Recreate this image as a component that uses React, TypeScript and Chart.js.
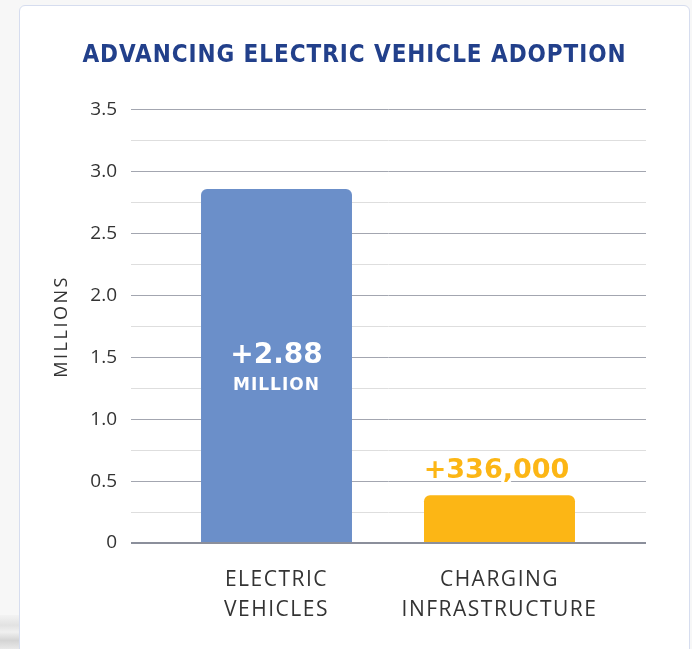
import React, { useEffect, useRef } from "react";
import { Chart, registerables } from "chart.js";

Chart.register(...registerables);

const chartTitle = "ADVANCING ELECTRIC VEHICLE ADOPTION";
const yAxisTitle = "MILLIONS";
const categories: string[][] = [
  ["ELECTRIC", "VEHICLES"],
  ["CHARGING", "INFRASTRUCTURE"],
];
const values: number[] = [2.86, 0.385];
const barColors: string[] = ["#6b8fc9", "#fcb615"];
const valueLabels: string[] = ["+2.88", "+336,000"];
const valueSubLabels: string[] = ["MILLION", ""];
const yTickValues: number[] = [0, 0.5, 1, 1.5, 2, 2.5, 3, 3.5];
const yTickLabels: string[] = ["0", "0.5", "1.0", "1.5", "2.0", "2.5", "3.0", "3.5"];

function withSpacing(ctx: any, spacing: string, fn: () => void) {
  ctx.save();
  ctx.letterSpacing = spacing;
  fn();
  ctx.restore();
}

const labelPlugin = {
  id: "barLabels",
  beforeDraw(chart: any) {
    const x = chart.scales.x;
    const y = chart.scales.y;
    const t = chart.titleBlock;
    const ctx = chart.ctx;
    if (x && !x.__patched) {
      const orig = x.drawLabels.bind(x);
      x.drawLabels = (area: any) => withSpacing(ctx, "1.5px", () => orig(area));
      x.__patched = true;
    }
    if (y && !y.__patched) {
      const origT = y.drawTitle.bind(y);
      y.drawTitle = () => withSpacing(ctx, "2.5px", () => origT());
      y.__patched = true;
    }
    if (t && !t.__patched) {
      const origD = t.draw.bind(t);
      t.draw = () => withSpacing(ctx, "0.95px", () => origD());
      t.__patched = true;
    }
  },
  afterDatasetsDraw(chart: any) {
    const ctx = chart.ctx;
    const meta = chart.getDatasetMeta(0);
    meta.data.forEach((bar: any, i: number) => {
      ctx.save();
      ctx.textAlign = "center";
      ctx.textBaseline = "middle";
      if (i === 0) {
        const mid = (bar.y + bar.base) / 2;
        ctx.fillStyle = "#ffffff";
        ctx.font = "bold 28px 'DejaVu Sans'";
        ctx.fillText(valueLabels[i], bar.x, mid - 10);
        (ctx as any).letterSpacing = "1px";
        ctx.font = "bold 17px 'DejaVu Sans'";
        ctx.fillText(valueSubLabels[i], bar.x, mid + 20);
      } else {
        ctx.font = "bold 27px 'DejaVu Sans'";
        ctx.lineJoin = "round";
        ctx.lineWidth = 6;
        ctx.strokeStyle = "#ffffff";
        ctx.strokeText(valueLabels[i], bar.x - 3, bar.y - 24);
        ctx.fillStyle = barColors[i];
        ctx.fillText(valueLabels[i], bar.x - 3, bar.y - 24);
      }
      ctx.restore();
    });
  },
};

export default function App() {
  const ref = useRef<HTMLCanvasElement | null>(null);

  useEffect(() => {
    document.body.style.margin = "0";
    if (!ref.current) return;
    const chart = new Chart(ref.current, {
      type: "bar",
      data: {
        datasets: [
          {
            data: values.map((v, i) => ({ x: i, y: v })),
            backgroundColor: barColors,
            borderRadius: { topLeft: 6, topRight: 6, bottomLeft: 0, bottomRight: 0 },
            borderSkipped: "start",
            barPercentage: 0.677,
            categoryPercentage: 1,
          },
        ],
      },
      options: {
        animation: false,
        responsive: true,
        maintainAspectRatio: false,
        layout: { padding: { left: 0, right: 0, top: 0, bottom: 0 } },
        plugins: {
          legend: { display: false },
          tooltip: { enabled: false },
          title: {
            display: true,
            text: chartTitle,
            color: "#22408b",
            font: { family: "'DejaVu Sans Condensed', 'DejaVu Sans'", weight: "bold", size: 24, lineHeight: 1.2 },
            padding: { top: 36, bottom: 40 },
          },
        },
        scales: {
          x: {
            type: "linear",
            min: -0.6525,
            max: 1.657,
            offset: false,
            grid: { display: false, offset: false, drawTicks: false },
            border: { display: false },
            afterBuildTicks: (scale: any) => {
              scale.ticks = categories.map((_, i) => ({ value: i }));
            },
            afterFit: (scale: any) => {
              scale.height = 106;
            },
            ticks: {
              autoSkip: false,
              maxRotation: 0,
              padding: 22,
              color: "#333333",
              font: { family: "'Open Sans'", size: 21, lineHeight: 1.42 },
              callback: (v: any) => categories[v as number] ?? "",
            },
          },
          y: {
            min: 0,
            max: 3.5,
            afterFit: (scale: any) => {
              scale.width = 112;
            },
            border: { display: false },
            grid: {
              drawTicks: false,
              color: (c: any) => {
                const v = c.tick.value;
                if (v === 0) return "#8b8f9b";
                return Math.abs(v * 2 - Math.round(v * 2)) < 1e-6 ? "#a3a6b0" : "#dedede";
              },
              lineWidth: (c: any) => (c.tick.value === 0 ? 2 : 1),
            },
            ticks: {
              stepSize: 0.25,
              autoSkip: false,
              padding: 14,
              color: "#333333",
              font: { family: "'Open Sans'", size: 19 },
              callback: (v: any) => {
                const idx = yTickValues.findIndex((t) => Math.abs(t - Number(v)) < 1e-6);
                return idx >= 0 ? yTickLabels[idx] : "";
              },
            },
            title: {
              display: true,
              text: yAxisTitle,
              color: "#333333",
              font: { family: "'Open Sans'", size: 18, lineHeight: 1.2 },
              padding: { top: 32, bottom: 0 },
            },
          },
          yRightSpace: {
            position: "right",
            display: true,
            grid: { display: false, drawTicks: false },
            border: { display: false },
            ticks: { display: false },
            afterFit: (scale: any) => {
              scale.width = 44;
            },
          },
        },
      },
      plugins: [labelPlugin],
    } as any);
    return () => chart.destroy();
  }, []);

  return (
    <div
      style={{
        position: "relative",
        width: 692,
        height: 649,
        overflow: "hidden",
        background: "#f7f7f7",
      }}
    >
      <div
        style={{
          position: "absolute",
          left: 0,
          top: 615,
          width: 19,
          height: 34,
          background: "linear-gradient(180deg, #f3f3f3 0%, #e2e2e2 30%, #f0f0f0 50%, #d4d4d4 75%, #e9e9e9 100%)",
        }}
      />
      <div
        style={{
          position: "absolute",
          left: 19,
          top: 5,
          width: 669,
          height: 700,
          background: "#ffffff",
          border: "1px solid #d6ddef",
          borderRadius: 6,
        }}
      />
      <div style={{ position: "absolute", left: 19, top: 5, width: 671, height: 644 }}>
        <canvas ref={ref} />
      </div>
    </div>
  );
}
